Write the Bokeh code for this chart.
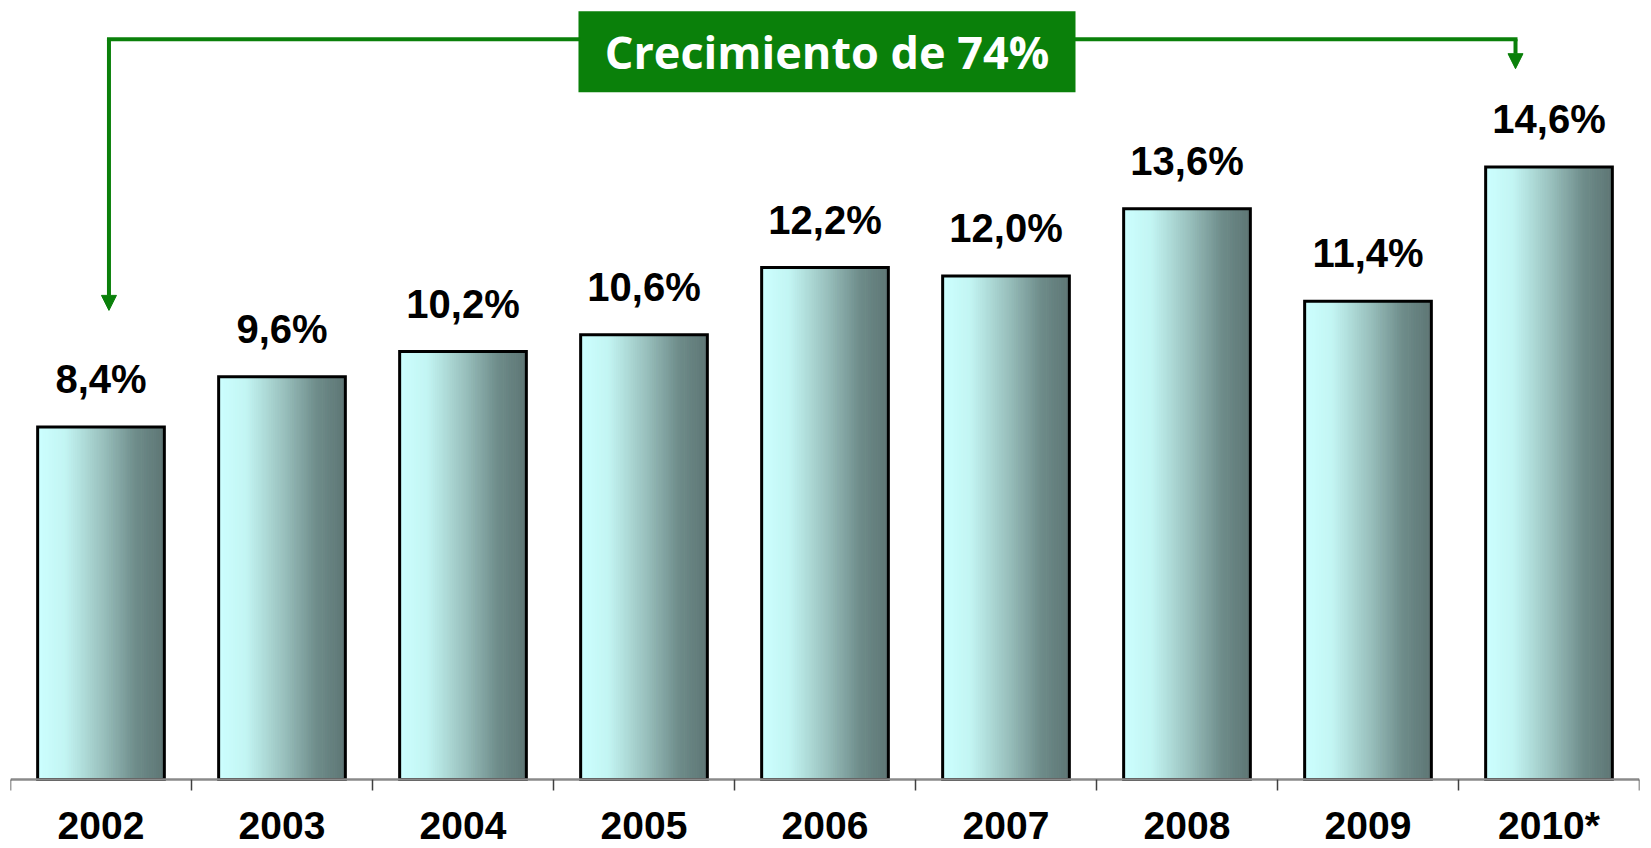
import numpy as np
from bokeh.plotting import figure
from bokeh.models import Range1d, FixedTicker, BoxAnnotation, Label, Arrow, NormalHead
from bokeh.core.properties import value
from bokeh.embed import file_html
from bokeh.resources import INLINE

# ---------------- data ----------------
years = ["2002", "2003", "2004", "2005", "2006", "2007", "2008", "2009", "2010*"]
shares = [8.4, 9.6, 10.2, 10.6, 12.2, 12.0, 13.6, 11.4, 14.6]
share_labels = ["8,4%", "9,6%", "10,2%", "10,6%", "12,2%", "12,0%", "13,6%", "11,4%", "14,6%"]
title_text = "Crecimiento de 74%"

# ---------------- layout ----------------
W, H = 1651, 848
PX_PER_UNIT = 41.96
AXIS_Y = 779
y_top = AXIS_Y / PX_PER_UNIT
y_bot = -(H - AXIS_Y) / PX_PER_UNIT
GREEN = "#0a800a"

p = figure(width=W, height=H, x_range=Range1d(0, len(years)), y_range=Range1d(y_bot, y_top),
           output_backend="svg", toolbar_location=None, y_axis_location=None,
           min_border_left=10, min_border_right=12, min_border_top=0, min_border_bottom=0)
p.outline_line_color = None
p.xgrid.visible = False
p.ygrid.visible = False
p.background_fill_color = "white"
p.border_fill_color = "white"

xs = np.arange(len(years)) + 0.5
bar_w = 0.70

# gradient fill made of thin vertical strips
stops = [(0.0, (0xCC, 0xFF, 0xFF)), (0.22, (0xC3, 0xF5, 0xF3)), (0.5, (0x9C, 0xC4, 0xC1)),
         (0.78, (0x6E, 0x8C, 0x8A)), (1.0, (0x5E, 0x76, 0x74))]

def grad(t):
    for (t0, c0), (t1, c1) in zip(stops[:-1], stops[1:]):
        if t0 <= t <= t1:
            f = (t - t0) / (t1 - t0)
            c = [round(a + (b - a) * f) for a, b in zip(c0, c1)]
            return "#%02x%02x%02x" % tuple(c)
    return "#%02x%02x%02x" % stops[-1][1]

N = 60
sw = bar_w / N
for k in range(N):
    col = grad((k + 0.5) / N)
    left = xs - bar_w / 2 + k * sw
    p.quad(left=left, right=left + sw, bottom=0, top=shares,
           fill_color=col, line_color=col, line_width=1)

p.quad(left=xs - bar_w / 2, right=xs + bar_w / 2, bottom=0, top=shares,
       fill_alpha=0, line_color="black", line_width=3, line_join="miter")

p.text(x=xs, y=shares, text=share_labels, text_align="center", text_baseline="alphabetic",
       y_offset=-48, text_font=value("Liberation Sans"), text_font_style="bold",
       text_font_size="40px", text_color="black")

# axis
ax = p.xaxis[0]
ax.fixed_location = 0
ax.ticker = FixedTicker(ticks=list(xs), minor_ticks=list(range(len(years) + 1)))
ax.major_label_overrides = {float(x): y for x, y in zip(xs, years)}
ax.major_tick_out = 0
ax.major_tick_in = 0
ax.minor_tick_out = 11
ax.minor_tick_in = 0
ax.minor_tick_line_color = "#404040"
ax.minor_tick_line_width = 1.5
ax.axis_line_color = "#8a8a8a"
ax.axis_line_width = 2.5
ax.major_label_standoff = 13
ax.major_label_text_font = "Liberation Sans"
ax.major_label_text_font_style = "bold"
ax.major_label_text_font_size = "39px"
ax.major_label_text_color = "black"

# title box with growth arrows
BOX_L, BOX_R, BOX_T, BOX_B = 3.138, 5.884, 18.31, 16.38
LINE_Y = 17.64
LEFT_X, RIGHT_X = 0.544, 8.315
p.add_layout(BoxAnnotation(left=BOX_L, right=BOX_R, top=BOX_T, bottom=BOX_B,
                           fill_color=GREEN, fill_alpha=1, line_color=None))
p.add_layout(Label(x=(BOX_L + BOX_R) / 2, y=(BOX_T + BOX_B) / 2, text=title_text,
                   text_align="center", text_baseline="middle", text_color="white",
                   text_font="Open Sans", text_font_style="bold", text_font_size="45px"))

p.add_layout(Arrow(start=None, end=None, x_start=LEFT_X, y_start=LINE_Y, x_end=BOX_L, y_end=LINE_Y,
                   line_color=GREEN, line_width=4, line_cap="square"))
p.add_layout(Arrow(start=None, end=None, x_start=BOX_R, y_start=LINE_Y, x_end=RIGHT_X, y_end=LINE_Y,
                   line_color=GREEN, line_width=4, line_cap="square"))
p.add_layout(Arrow(x_start=LEFT_X, y_start=LINE_Y, x_end=LEFT_X, y_end=11.18,
                   end=NormalHead(size=15, fill_color=GREEN, line_color=GREEN, line_width=1),
                   line_color=GREEN, line_width=4))
p.add_layout(Arrow(x_start=RIGHT_X, y_start=LINE_Y, x_end=RIGHT_X, y_end=16.94,
                   end=NormalHead(size=15, fill_color=GREEN, line_color=GREEN, line_width=1),
                   line_color=GREEN, line_width=4))

open("out.html", "w").write(file_html(p, INLINE))
